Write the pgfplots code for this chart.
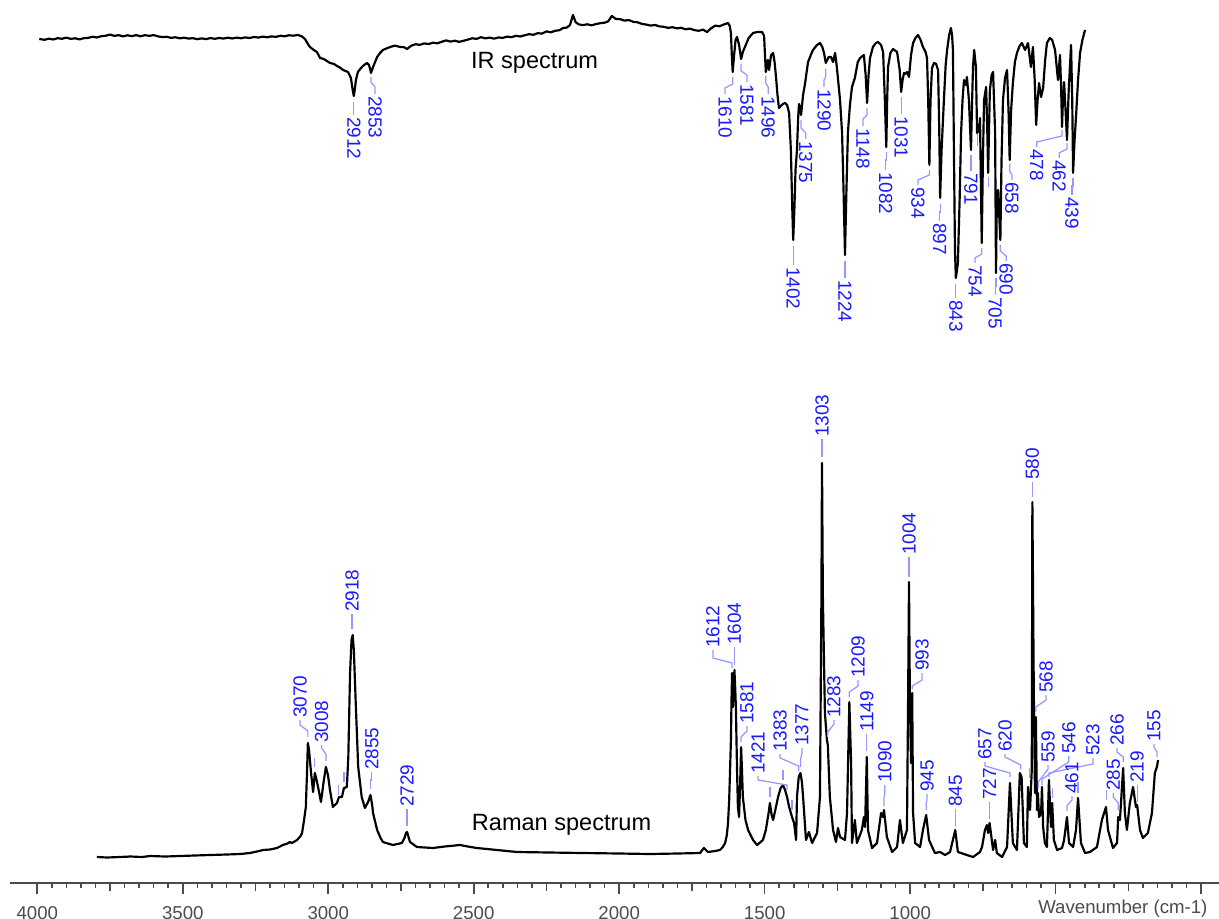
\documentclass[border=0pt]{standalone}
\usepackage{pgfplots}
\pgfplotsset{compat=1.18}
\usepackage{fontspec}
\setmainfont{Liberation Sans}
\definecolor{labblue}{RGB}{25,25,255}
\definecolor{leadblue}{RGB}{150,150,255}
\definecolor{axgray}{RGB}{75,75,75}
\tikzset{
  leader/.style={draw=leadblue, line width=0.35pt},
  irlab/.style={rotate=-90, anchor=west, inner xsep=0.15mm, inner ysep=0pt, text=labblue, font=\fontsize{5.4}{6}\selectfont},
  rmlab/.style={rotate=90, anchor=west, inner xsep=0.15mm, inner ysep=0pt, text=labblue, font=\fontsize{5.4}{6}\selectfont},
}
% #1 peak, #2 #3 leader y at peak, #4 text position, #5 #6 leader y at text, #7 label
\newcommand{\irl}[7]{%
  \draw[leader] (axis cs:#1,-#2) -- (axis cs:#1,-#3) -- (axis cs:#4,-#5) -- (axis cs:#4,-#6);
  \node[irlab] at (axis cs:#4,-#6) {#7};}
\newcommand{\rml}[7]{%
  \draw[leader] (axis cs:#1,-#2) -- (axis cs:#1,-#3) -- (axis cs:#4,-#5) -- (axis cs:#4,-#6);
  \node[rmlab] at (axis cs:#4,-#6) {#7};}
\newcommand{\ul}[3]{\draw[leader] (axis cs:#1,-#2) -- (axis cs:#1,-#3);}
\begin{document}
\begin{tikzpicture}
\useasboundingbox (0,0) rectangle (121.9mm,91.8mm);
\begin{axis}[
  at={(1mm,3.5mm)}, anchor=south west,
  scale only axis, width=120.9mm, height=88.3mm,
  xmin=-61.5, xmax=4093.8, ymin=-883, ymax=0,
  x dir=reverse,
  axis x line=bottom, axis y line=none,
  axis line style={axgray, line width=0.6pt, -},
  xtick={0,500,...,4000},
  xticklabels={{},{},1000,1500,2000,2500,3000,3500,4000},
  minor x tick num=9,
  extra x ticks={250,750,...,3750}, extra x tick labels={},
  extra x tick style={major tick length=0.75mm},
  tick align=outside,
  major tick length=1.1mm, minor tick length=0.45mm,
  tick style={axgray, line width=0.45pt},
  xticklabel style={font=\fontsize{5.3}{6}\selectfont, text=axgray},
  clip=false,
]
% IR spectrum
\addplot[black, line width=0.62pt, line join=round, mark=none] coordinates {
(3993,-39) (3975,-39.8) (3960,-38.7) (3945,-39.5) (3930,-38.2) (3915,-38.8) (3900,-37.6) (3885,-38.9) (3870,-38.3) (3855,-39.4) (3840,-38.2) (3825,-37.9) (3810,-36.8) (3795,-37.5) (3780,-36.2) (3765,-35.8) (3750,-34.6) (3735,-35.9) (3720,-35.2) (3705,-36.4) (3690,-35.3) (3675,-36.2) (3660,-35.1) (3645,-36.3) (3630,-35.2) (3615,-35.9) (3600,-35.1) (3585,-36.4) (3570,-37.1) (3555,-36.8) (3540,-37.9) (3525,-37.3) (3510,-38.4) (3495,-37.7) (3480,-38.6) (3465,-38.2) (3450,-39.2) (3435,-38.4) (3420,-39.1) (3405,-38.1) (3390,-38.8) (3375,-38.0) (3360,-38.6) (3345,-37.7) (3330,-38.5) (3315,-37.6) (3300,-38.3) (3285,-37.4) (3270,-38.0) (3255,-37.0) (3240,-37.6) (3225,-36.6) (3210,-37.3) (3195,-36.4) (3180,-36.9) (3165,-35.8) (3150,-36.3) (3135,-35.3) (3120,-35.7) (3104,-35)
(3090,-36.5) (3080,-39) (3070,-44) (3063,-47) (3050,-50) (3039,-52) (3028,-58) (3015,-59) (2994,-63) (2980,-64) (2970,-66) (2960,-67.5) (2949,-70) (2932,-72) (2922,-78) (2916,-90) (2912,-96) (2908,-88) (2905,-80) (2898,-72) (2890,-69) (2881,-66) (2867,-63) (2860,-65) (2857,-68) (2853,-73) (2846,-67) (2839,-62) (2832,-57) (2822,-53) (2812,-50)
(2800,-48.5) (2785,-46.8) (2770,-45.6) (2755,-46.9) (2740,-47.2) (2729,-49) (2715,-45.8) (2700,-44.2) (2685,-44.9) (2670,-43.4) (2655,-44.1) (2640,-42.7) (2625,-43.3) (2610,-41.8) (2595,-40.4) (2580,-41.6) (2565,-40.7) (2550,-41.9) (2535,-40.8) (2520,-39.6) (2505,-38.3) (2490,-38.9) (2475,-37.2) (2460,-38.4) (2445,-37.6) (2430,-38.7) (2415,-37.5) (2400,-37.9) (2385,-36.6) (2370,-37.2) (2355,-35.8) (2340,-36.5) (2325,-35.3) (2310,-34.2) (2295,-34.8) (2280,-33.2) (2265,-33.6) (2250,-31.4) (2235,-32.3) (2220,-30.8) (2205,-30.2) (2193,-28) (2180,-27.6) (2169,-25) (2159,-15) (2150,-22) (2140,-24.3) (2125,-25.2) (2110,-24.3) (2095,-25.4) (2080,-24.1) (2065,-23.2) (2050,-22.7) (2038,-21.4) (2025,-16) (2012,-18.9) (1997,-19.2) (1982,-20.6) (1967,-20.1) (1952,-21.8) (1937,-22.3) (1922,-23.9) (1907,-24.6) (1892,-25.6) (1877,-25.0) (1862,-26.4) (1847,-26.8) (1832,-27.9) (1817,-27.2) (1802,-28.4) (1787,-27.8) (1772,-29.3) (1757,-28.6) (1742,-30.1) (1727,-30.8) (1712,-29.7) (1698,-32) (1685,-28.5) (1670,-25.6) (1655,-26.3) (1643,-24.8) (1626,-23)
(1620,-26) (1616,-33) (1613,-55) (1610,-72) (1605,-55) (1600,-40) (1595,-37) (1588,-45) (1581,-59) (1575,-52) (1568,-47) (1555,-38) (1540,-33) (1525,-32) (1509,-32) (1502,-36) (1499,-55) (1496,-72) (1489,-60) (1485,-70) (1478,-55) (1471,-53) (1466,-62) (1461,-77) (1456,-95) (1451,-108) (1445,-106) (1437,-104) (1430,-103) (1423,-105) (1416,-113) (1410,-150) (1405,-210) (1402,-240) (1398,-210) (1394,-170) (1389,-150) (1385,-118) (1382,-104) (1378,-108) (1375,-115) (1368,-95) (1361,-83) (1351,-62) (1340,-54) (1334,-50) (1320,-45) (1310,-43) (1302,-47) (1296,-53) (1290,-63) (1280,-57) (1272,-57) (1265,-62) (1258,-53) (1252,-67) (1246,-85) (1241,-100) (1234,-133) (1229,-190) (1224,-255) (1219,-190) (1214,-133) (1207,-105) (1200,-87) (1190,-78) (1180,-62) (1172,-58) (1159,-55) (1153,-75) (1148,-103) (1143,-75) (1138,-58) (1128,-47) (1118,-43) (1110,-42) (1100,-45) (1093,-52) (1087,-100) (1082,-147) (1079,-100) (1076,-67) (1068,-53) (1059,-49) (1045,-52) (1036,-70) (1031,-92) (1026,-80) (1021,-73) (1016,-74) (1011,-72) (1004,-77) (997,-55) (990,-43) (982,-38) (973,-35) (964,-40) (956,-47) (947,-52) (942,-58) (938,-100) (934,-165) (930,-100) (925,-68) (918,-63) (911,-64) (904,-70) (900,-130) (897,-198) (892,-150) (884,-100) (878,-65) (873,-50) (866,-35) (860,-28) (856,-35) (853,-50) (849,-167) (846,-250) (843,-278) (840,-272) (836,-263) (830,-200) (825,-133) (820,-100) (815,-80) (808,-85) (805,-77) (798,-100) (791,-150) (787,-100) (784,-67) (780,-50) (774,-67) (770,-133) (763,-130) (760,-118) (757,-180) (754,-243) (750,-160) (746,-100) (739,-87) (735,-130) (732,-173) (729,-130) (726,-90) (720,-75) (715,-72) (708,-133) (705,-273) (702,-200) (698,-190) (694,-215) (690,-240) (686,-160) (681,-100) (674,-78) (667,-70) (662,-110) (658,-160) (653,-110) (647,-83) (640,-62) (633,-53) (624,-46) (616,-43) (605,-50) (595,-43) (585,-67) (578,-47) (572,-80) (567,-125) (562,-100) (557,-83) (550,-97) (543,-88) (536,-60) (530,-43) (520,-38) (512,-40) (502,-50) (492,-80) (485,-55) (481,-90) (478,-127) (475,-100) (471,-82) (466,-110) (461,-140) (455,-90) (447,-45) (443,-100) (440,-173) (435,-140) (430,-117) (423,-80) (416,-53) (408,-40) (399,-30)
};
% Raman spectrum
\addplot[black, line width=0.62pt, line join=round, mark=none] coordinates {
(3795,-857) (3760,-857.5) (3716,-857) (3680,-856.5) (3640,-857) (3613,-856) (3560,-856.5) (3510,-856) (3460,-855.5) (3406,-855) (3350,-854.5) (3303,-854) (3269,-853) (3245,-851.5) (3224,-850) (3200,-849.5) (3176,-848) (3156,-845) (3140,-843.5) (3132,-842) (3125,-843) (3107,-840) (3095,-836) (3090,-833) (3083,-820) (3077,-807) (3073,-773) (3070,-743) (3066,-750) (3059,-773) (3052,-792) (3046,-773) (3040,-780) (3035,-787) (3025,-802) (3015,-780) (3008,-767) (3001,-775) (2994,-790) (2984,-807) (2970,-803) (2963,-797) (2953,-797) (2946,-788) (2936,-787) (2931,-757) (2925,-673) (2920,-640) (2916,-635) (2912,-650) (2905,-707) (2897,-767) (2885,-797) (2874,-808) (2863,-802) (2855,-795) (2849,-805) (2846,-813) (2832,-830) (2820,-838) (2812,-842) (2778,-845) (2747,-843) (2738,-838) (2733,-833) (2729,-832) (2725,-836) (2719,-842) (2695,-847) (2640,-848) (2600,-846.5) (2582,-846) (2547,-845) (2520,-846.5) (2489,-848) (2420,-850) (2351,-852) (2240,-852.5) (2125,-853) (2000,-853.5) (1894,-854) (1800,-853.5) (1722,-853) (1709,-848) (1695,-852) (1670,-851) (1654,-850) (1644,-847) (1636,-843) (1630,-835) (1626,-823) (1622,-800) (1619,-770) (1616,-740) (1614,-700) (1612,-673) (1609,-707) (1604,-670) (1601,-690) (1599,-707) (1595,-770) (1592,-807) (1588,-817) (1584,-780) (1581,-747) (1578,-770) (1575,-797) (1566,-820) (1557,-830) (1540,-840) (1526,-845) (1506,-840) (1496,-830) (1486,-812) (1482,-803) (1476,-815) (1471,-820) (1462,-808) (1454,-797) (1445,-788) (1437,-785) (1430,-790) (1423,-797) (1416,-807) (1406,-817) (1399,-823) (1392,-840) (1389,-797) (1383,-777) (1377,-773) (1372,-782) (1368,-797) (1358,-840) (1348,-832) (1337,-843) (1320,-833) (1310,-797) (1305,-597) (1303,-463) (1300,-597) (1293,-713) (1286,-740) (1283,-745) (1276,-797) (1265,-830) (1255,-842) (1248,-828) (1241,-837) (1224,-840) (1217,-813) (1209,-702) (1203,-763) (1200,-843) (1190,-820) (1183,-843) (1166,-830) (1159,-817) (1155,-827) (1149,-757) (1145,-830) (1131,-848) (1114,-843) (1100,-813) (1093,-817) (1090,-810) (1080,-837) (1062,-852) (1045,-847) (1035,-820) (1025,-843) (1011,-830) (1007,-697) (1004,-582) (1001,-697) (997,-763) (993,-693) (990,-813) (983,-843) (966,-847) (956,-830) (945,-815) (935,-840) (915,-853) (897,-852) (880,-855) (863,-852) (845,-830) (836,-852) (805,-855) (784,-857) (760,-852) (753,-847) (743,-830) (736,-825) (732,-833) (727,-823) (715,-850) (708,-840) (702,-853) (684,-857) (667,-847) (657,-783) (647,-843) (633,-850) (623,-773) (617,-777) (609,-843) (599,-847) (595,-787) (588,-810) (582,-770) (580,-502) (575,-693) (571,-793) (568,-717) (564,-810) (561,-793) (557,-817) (550,-813) (547,-787) (543,-827) (537,-843) (530,-847) (523,-780) (516,-827) (512,-803) (506,-840) (495,-850) (478,-848) (471,-840) (461,-817) (454,-843) (440,-847) (430,-830) (423,-798) (413,-843) (399,-853) (382,-852) (358,-847) (341,-820) (327,-807) (320,-830) (303,-848) (289,-843) (285,-817) (279,-820) (268,-768) (262,-813) (255,-830) (245,-803) (234,-787) (224,-807) (220,-805) (210,-830) (200,-838) (183,-833) (169,-813) (159,-773) (152,-767) (148,-760)
};
% titles
\node[font=\fontsize{6.7}{8}\selectfont] at (axis cs:2291,-63) {IR spectrum};
\node[font=\fontsize{6.7}{8}\selectfont] at (axis cs:2198,-825) {Raman spectrum};
\node[anchor=base east, inner sep=0pt, font=\fontsize{5.3}{6}\selectfont, text=axgray] at (axis cs:-24,-913) {Wavenumber (cm-1)};
% IR labels
\irl{2912}{102}{108}{2912}{108}{115}{2912}
\irl{2853}{77}{82}{2839}{87}{94}{2853}
\irl{1610}{77}{84}{1636}{88}{94}{1610}
\irl{1581}{64}{71}{1561}{75}{82}{1581}
\irl{1496}{76}{83}{1488}{87}{94}{1496}
\irl{1402}{246}{254}{1402}{254}{265}{1402}
\irl{1375}{120}{128}{1359}{133}{139}{1375}
\irl{1290}{69}{77}{1296}{80}{87}{1290}
\irl{1224}{261}{268}{1224}{268}{278}{1224}
\irl{1148}{108}{115}{1162}{119}{126}{1148}
\irl{1082}{152}{160}{1084}{160}{170}{1082}
\irl{1031}{97}{105}{1031}{105}{114}{1031}
\irl{934}{170}{175}{973}{180}{185}{934}
\irl{897}{204}{212}{899}{212}{221}{897}
\irl{843}{284}{290}{843}{290}{298}{843}
\irl{791}{155}{162}{791}{162}{171}{791}
\irl{754}{248}{254}{777}{258}{263}{754}
\irl{705}{278}{286}{708}{286}{295}{705}
\irl{690}{245}{251}{670}{256}{261}{690}
\irl{658}{164}{171}{650}{175}{180}{658}
\irl{478}{130}{136}{565}{142}{147}{478}
\irl{461}{143}{149}{488}{153}{158}{462}
\irl{440}{178}{186}{444}{186}{195}{439}
\ul{769}{134}{146}
\ul{732}{177}{187}
% Raman labels
\rml{3070}{737}{731}{3097}{725}{720}{3070}
\rml{3008}{761}{754}{3023}{748}{745}{3008}
\rml{2918}{629}{622}{2918}{622}{614}{2918}
\rml{2855}{789}{780}{2850}{780}{772}{2855}
\rml{2729}{826}{818}{2729}{818}{809}{2729}
\rml{1612}{668}{663}{1678}{658}{650}{1612}
\rml{1604}{665}{658}{1604}{658}{647}{1604}
\rml{1581}{742}{737}{1561}{731}{726}{1581}
\rml{1423}{790}{785}{1523}{780}{776}{1421}
\rml{1383}{771}{766}{1447}{758}{754}{1383}
\rml{1377}{767}{760}{1372}{753}{748}{1377}
\rml{1303}{457}{448}{1303}{448}{439}{1303}
\rml{1283}{737}{732}{1262}{724}{720}{1283}
\rml{1209}{697}{692}{1179}{686}{680}{1209}
\rml{1149}{751}{743}{1149}{743}{734}{1149}
\rml{1090}{806}{797}{1087}{793}{785}{1090}
\rml{1004}{577}{568}{1004}{568}{557}{1004}
\rml{993}{689}{686}{959}{680}{673}{993}
\rml{945}{810}{803}{942}{800}{794}{945}
\rml{845}{826}{818}{845}{818}{809}{845}
\rml{727}{819}{811}{727}{811}{802}{727}
\rml{657}{777}{773}{743}{766}{762}{657}
\rml{620}{769}{765}{674}{757}{754}{620}
\rml{580}{497}{490}{580}{490}{482}{580}
\rml{568}{712}{707}{533}{700}{695}{568}
\rml{560}{788}{782}{526}{769}{765}{559}
\rml{547}{785}{779}{455}{762}{756}{546}
\rml{523}{777}{773}{372}{764}{758}{523}
\rml{461}{811}{806}{444}{800}{796}{461}
\rml{285}{810}{803}{302}{797}{793}{285}
\rml{268}{762}{757}{289}{752}{748}{266}
\rml{220}{802}{795}{220}{795}{785}{219}
\rml{152}{757}{752}{162}{747}{744}{155}
\ul{3046}{767}{758}
\ul{2966}{795}{785}
\ul{2946}{782}{772}
\ul{1482}{797}{787}
\ul{1437}{780}{770}
\ul{1406}{810}{800}
\ul{591}{778}{768}
\ul{512}{798}{788}
\ul{423}{793}{782}
\ul{324}{800}{790}
\end{axis}
\end{tikzpicture}
\end{document}
